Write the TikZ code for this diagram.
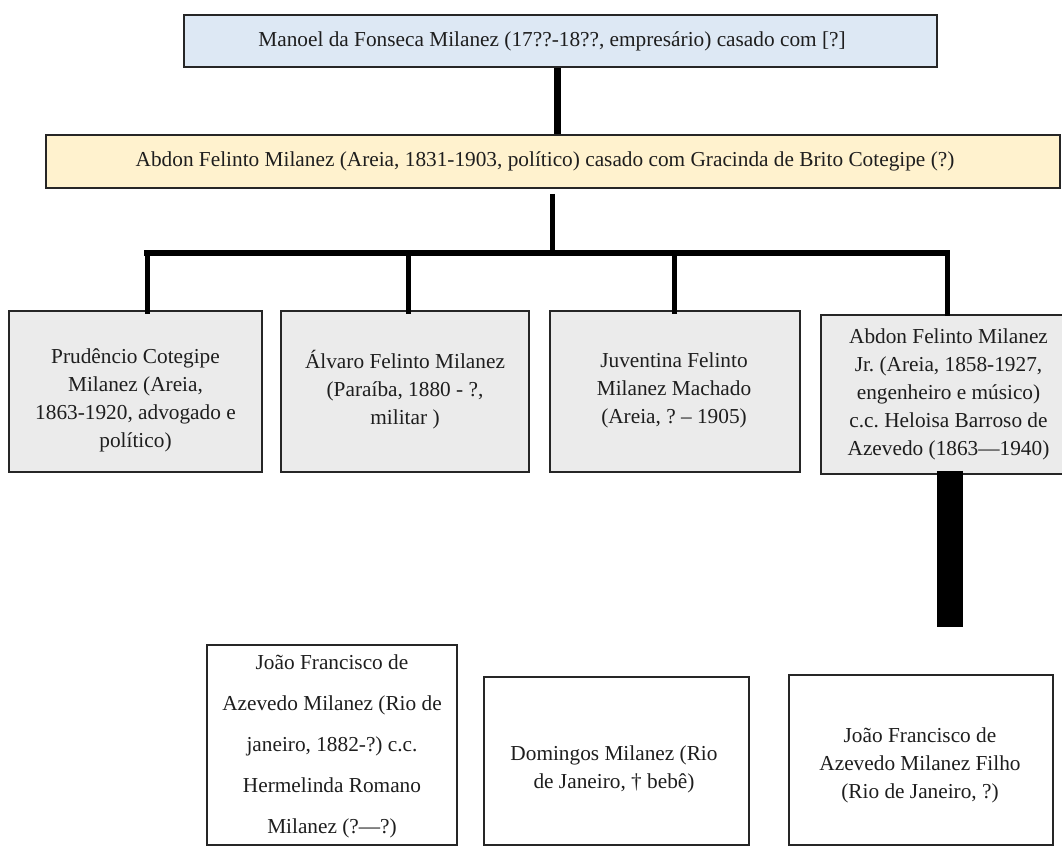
\documentclass[tikz,border=0pt]{standalone}
\usepackage{fontspec}
\setmainfont{Liberation Serif}
\frenchspacing
\definecolor{boxline}{HTML}{262626}
\definecolor{txt}{HTML}{1E1E1E}
\definecolor{topfill}{HTML}{DDE8F4}
\definecolor{yelfill}{HTML}{FFF2CE}
\definecolor{grayfill}{HTML}{EBEBEB}
\tikzset{
  box/.style={draw=boxline, line width=1.6pt, rectangle, inner sep=0pt, anchor=center},
  lbl/.style={text=txt, align=center, inner sep=0pt, anchor=center, font=\frenchspacing\fontsize{21.3}{28}\selectfont},
  lblwide/.style={lbl, font=\frenchspacing\fontsize{21.3}{41}\selectfont},
  conn/.style={draw=black, line width=5pt},
  busline/.style={draw=black, line width=6.5pt, line cap=rect},
  thickbar/.style={draw=black, line width=26pt}
}
\begin{document}
\begin{tikzpicture}[x=1pt,y=-1pt]
\useasboundingbox (0,0) rectangle (1062,846);
\clip (0,0) rectangle (1062,846);
% boxes
\node[box, fill=topfill, minimum width=753, minimum height=52] (top) at (560.5,41) {};
\node[box, fill=yelfill, minimum width=1014, minimum height=53] (yel) at (553,161.5) {};
\node[box, fill=grayfill, minimum width=253, minimum height=161] (c1) at (135.5,391.5) {};
\node[box, fill=grayfill, minimum width=248, minimum height=161] (c2) at (405,391.5) {};
\node[box, fill=grayfill, minimum width=250, minimum height=161] (c3) at (675,391.5) {};
\node[box, fill=grayfill, minimum width=247, minimum height=159] (c4) at (944.5,394.5) {};
\node[box, fill=white, minimum width=250, minimum height=200] (bA) at (332,745) {};
\node[box, fill=white, minimum width=265, minimum height=168] (bB) at (616.5,761) {};
\node[box, fill=white, minimum width=264, minimum height=170] (bC) at (921,760) {};
% texts
\node[lbl] (topt) at (552,41) {Manoel da Fonseca Milanez (17??-18??, empresário) casado com [?]};
\node[lbl] (yelt) at (545,161) {Abdon Felinto Milanez (Areia, 1831-1903, político) casado com Gracinda de Brito Cotegipe (?)};
\node[lbl] (c1t) at (135.5,400) {Prudêncio Cotegipe\\Milanez (Areia,\\1863-1920, advogado e\\político)};
\node[lbl] (c2t) at (405,390) {Álvaro Felinto Milanez\\(Paraíba, 1880 - ?,\\militar )};
\node[lbl] (c3t) at (674,390) {Juventina Felinto\\Milanez Machado\\(Areia, ? – 1905)};
\node[lbl] (c4t) at (948.5,394) {Abdon Felinto Milanez\\Jr. (Areia, 1858-1927,\\engenheiro e músico)\\c.c. Heloisa Barroso de\\Azevedo (1863—1940)};
\node[lblwide] (bAt) at (332,746) {João Francisco de\\Azevedo Milanez (Rio de\\janeiro, 1882-?) c.c.\\Hermelinda Romano\\Milanez (?—?)};
\node[lbl] (bBt) at (614,769) {Domingos Milanez (Rio\\de Janeiro, † bebê)};
\node[lbl] (bCt) at (920,765) {João Francisco de\\Azevedo Milanez Filho\\(Rio de Janeiro, ?)};
% connectors
\coordinate (ts) at ([xshift=-3.5pt]top.south);
\draw[conn, line width=7pt] (ts) -- (ts |- yel.north);
\coordinate (ys) at ([xshift=-1pt,yshift=-5pt]yel.south);
\coordinate (busc) at (552,253);
\draw[conn] (ys) -- (busc);
\coordinate (d1) at ([xshift=11.5pt]c1.north);
\coordinate (d2) at ([xshift=3pt]c2.north);
\coordinate (d3) at ([xshift=-1pt]c3.north);
\coordinate (d4) at ([xshift=2.5pt]c4.north);
\coordinate (b1) at (d1 |- busc);
\coordinate (b2) at (d2 |- busc);
\coordinate (b3) at (d3 |- busc);
\coordinate (b4) at (d4 |- busc);
\draw[busline] (b1) -- (b4);
\draw[conn] (b1) -- ([yshift=-4pt]d1);
\draw[conn] (b2) -- ([yshift=-4pt]d2);
\draw[conn] (b3) -- ([yshift=-4pt]d3);
\draw[conn] (b4) -- ([yshift=-2pt]d4);
\coordinate (barend) at (950,627);
\draw[thickbar] ([xshift=5.5pt,yshift=4pt]c4.south) -- (barend);
\end{tikzpicture}
\end{document}
